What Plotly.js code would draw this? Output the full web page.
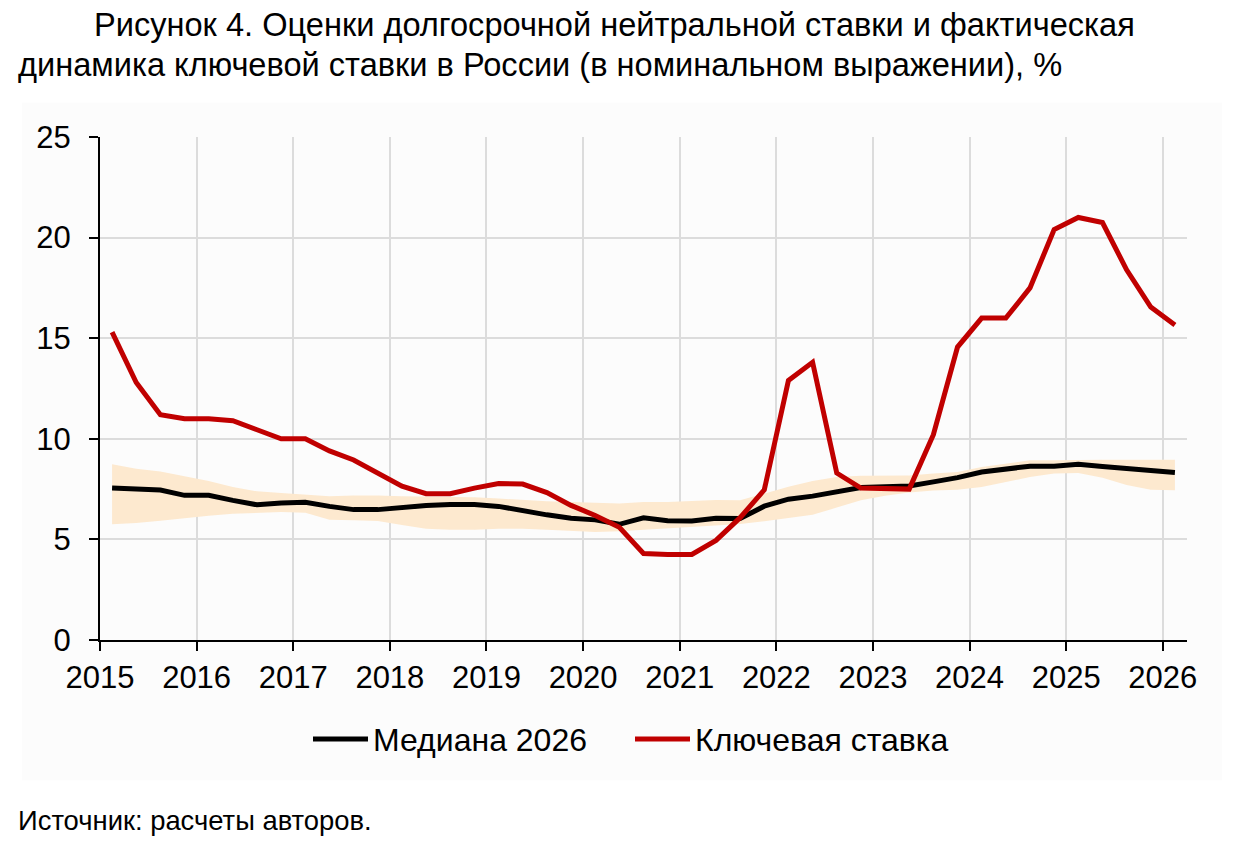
<!DOCTYPE html>
<html>
<head>
<meta charset="utf-8">
<script src="https://cdn.plot.ly/plotly-3.0.1.min.js"></script>
<style>
  html, body { margin: 0; padding: 0; background: #fff; }
  #chart { width: 1257px; height: 860px; }
</style>
</head>
<body>
<div id="chart"></div>
<script>
// Кварталы 2015Q1 - 2026Q1
const firstYear = 2015;
const quarterLabels = [];
for (let y = firstYear; y <= 2026; y++) {
    for (let q = 1; q <= 4; q++) {
        if (y === 2026 && q > 1) break;
        quarterLabels.push(y + 'Q' + q);
    }
}

// Ключевая ставка, %
const keyRate = [
    15.3, 12.8, 11.2, 11.0,
    11.0, 10.9, 10.45, 10.0,
    10.0, 9.4, 8.95, 8.3,
    7.65, 7.27, 7.27, 7.55,
    7.78, 7.75, 7.33, 6.69,
    6.19, 5.6, 4.3, 4.25,
    4.25, 4.95, 6.08, 7.46,
    12.9, 13.8, 8.3, 7.55,
    7.5, 7.5, 10.2, 14.56,
    16.0, 16.0, 17.5, 20.4,
    21.0, 20.75, 18.4, 16.55,
    15.65
];

// Медиана 2026
const median2026 = [
    7.55, 7.5, 7.45, 7.19,
    7.19, 6.94, 6.72, 6.81,
    6.85, 6.64, 6.48, 6.48,
    6.6, 6.68, 6.73, 6.74,
    6.64, 6.42, 6.22, 6.05,
    5.97, 5.75, 6.07, 5.93,
    5.92, 6.05, 6.04, 6.65,
    7.0, 7.15, 7.38, 7.58,
    7.62, 7.65, 7.86, 8.07,
    8.35, 8.51, 8.64, 8.63,
    8.73, 8.62, 8.51, 8.43,
    8.33
];

// Диапазон оценок (верхняя и нижняя граница)
const bandUpper = [
    8.73, 8.51, 8.37, 8.15,
    7.9, 7.6, 7.39, 7.3,
    7.24, 7.15, 7.18, 7.18,
    7.14, 7.12, 7.1, 7.1,
    7.03, 6.95, 6.89, 6.86,
    6.82, 6.78, 6.86, 6.86,
    6.91, 6.96, 6.94, 7.27,
    7.62, 7.9, 8.1, 8.16,
    8.16, 8.18, 8.27, 8.35,
    8.6, 8.78, 8.93, 8.94,
    8.96, 8.96, 8.96, 8.96,
    8.96
];
const bandLower = [
    5.75, 5.82, 5.93, 6.06,
    6.18, 6.28, 6.33, 6.36,
    6.33, 5.98, 5.95, 5.91,
    5.72, 5.53, 5.48, 5.48,
    5.53, 5.53, 5.48, 5.41,
    5.37, 5.41, 5.48, 5.58,
    5.65, 5.7, 5.77, 5.9,
    6.05, 6.22, 6.58, 6.94,
    7.17, 7.33, 7.43, 7.47,
    7.6, 7.85, 8.1, 8.27,
    8.3, 8.07, 7.7, 7.47,
    7.44
];

const yearTicks = [2015, 2016, 2017, 2018, 2019, 2020, 2021, 2022, 2023, 2024, 2025, 2026];

// середина квартала на числовой оси лет
const xq = quarterLabels.map(s => {
    const y = parseInt(s.slice(0, 4));
    const q = parseInt(s.slice(5));
    return y + (q - 0.5) / 4;
});

const FONT = 'Liberation Sans, Arial, sans-serif';

const traces = [
    {
        x: xq, y: bandLower, type: 'scatter', mode: 'lines',
        line: { width: 0, color: 'rgba(0,0,0,0)' },
        showlegend: false, hoverinfo: 'skip'
    },
    {
        x: xq, y: bandUpper, type: 'scatter', mode: 'lines',
        fill: 'tonexty', fillcolor: '#fde9cf',
        line: { width: 0, color: 'rgba(0,0,0,0)' },
        showlegend: false, hoverinfo: 'skip'
    },
    {
        x: xq, y: median2026, type: 'scatter', mode: 'lines',
        name: 'Медиана 2026',
        line: { color: '#000000', width: 5 }
    },
    {
        x: xq, y: keyRate, type: 'scatter', mode: 'lines',
        name: 'Ключевая ставка',
        line: { color: '#c00000', width: 5 }
    }
];

const layout = {
    width: 1257,
    height: 860,
    margin: { l: 100, r: 70, t: 137, b: 220 },
    paper_bgcolor: 'white',
    plot_bgcolor: 'rgba(0,0,0,0)',
    font: { family: FONT, color: '#000' },
    showlegend: true,
    legend: {
        orientation: 'h',
        x: (308 - 100) / 1087, xanchor: 'left',
        y: -0.197, yanchor: 'middle',
        font: { size: 32, family: FONT, color: '#000' },
        itemwidth: 55,
        entrywidth: 252,
        traceorder: 'normal',
        bgcolor: 'rgba(0,0,0,0)'
    },
    xaxis: {
        range: [2015, 2026.25],
        tickvals: yearTicks,
        ticktext: yearTicks.map(String),
        showline: true, linecolor: '#000', linewidth: 2,
        ticks: 'outside', ticklen: 9, tickwidth: 2, tickcolor: '#000',
        showgrid: true, gridcolor: '#dcdcdc', gridwidth: 2,
        zeroline: false,
        tickfont: { size: 31, family: FONT, color: '#000' }
    },
    yaxis: {
        range: [0, 25],
        dtick: 5, tick0: 0,
        showline: true, linecolor: '#000', linewidth: 2,
        ticks: 'outside', ticklen: 9, tickwidth: 2, tickcolor: '#000',
        showgrid: true, gridcolor: '#dcdcdc', gridwidth: 2,
        zeroline: false,
        ticklabelstandoff: 12,
        tickfont: { size: 31, family: FONT, color: '#000' }
    },
    shapes: [
        {
            type: 'rect', xref: 'paper', yref: 'paper', layer: 'below',
            x0: (22 - 100) / 1087, x1: (1222 - 100) / 1087,
            y0: (639.8 - 780) / 502.5, y1: (639.8 - 103) / 502.5,
            fillcolor: '#fcfcfc', line: { width: 0 }
        }
    ],
    annotations: [
        {
            xref: 'paper', yref: 'paper',
            x: (92 - 100) / 1087, xanchor: 'left',
            y: (639.8 - 25) / 502.5, yanchor: 'middle',
            text: 'Рисунок 4. Оценки долгосрочной нейтральной ставки и фактическая',
            showarrow: false,
            font: { size: 32.6, family: FONT, color: '#000' }
        },
        {
            xref: 'paper', yref: 'paper',
            x: (16 - 100) / 1087, xanchor: 'left',
            y: (639.8 - 65) / 502.5, yanchor: 'middle',
            text: 'динамика ключевой ставки в России (в номинальном выражении), %',
            showarrow: false,
            font: { size: 32.6, family: FONT, color: '#000' }
        },
        {
            xref: 'paper', yref: 'paper',
            x: (16 - 100) / 1087, xanchor: 'left',
            y: (639.8 - 820) / 502.5, yanchor: 'middle',
            text: 'Источник: расчеты авторов.',
            showarrow: false,
            font: { size: 27.4, family: FONT, color: '#000' }
        }
    ]
};

Plotly.newPlot('chart', traces, layout, { displayModeBar: false, staticPlot: true });
</script>
</body>
</html>
